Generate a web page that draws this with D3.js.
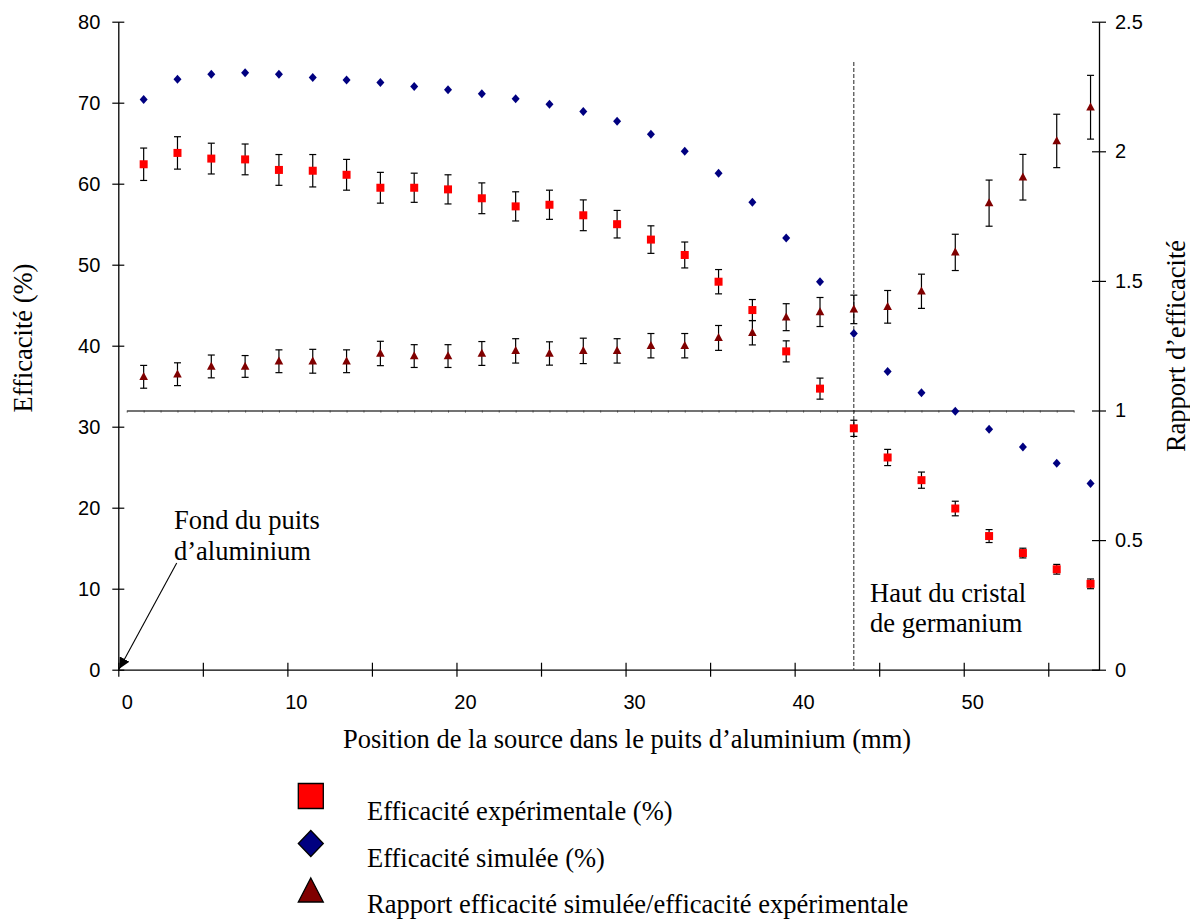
<!DOCTYPE html>
<html>
<head>
<meta charset="utf-8">
<script src="https://cdn.jsdelivr.net/npm/d3@7"></script>
<style>
body { margin: 0; background: #fff; }
</style>
</head>
<body>
<div id="viz"></div>
<script>
// position de la source (mm)
var positions = [1, 3, 5, 7, 9, 11, 13, 15, 17, 19, 21, 23, 25, 27, 29, 31, 33, 35, 37, 39, 41, 43, 45, 47, 49, 51, 53, 55, 57];

// efficacite experimentale (%) et son incertitude
var experimentale = [62.4, 63.8, 63.1, 63.0, 61.7, 61.6, 61.1, 59.5, 59.5, 59.3, 58.2, 57.2, 57.4, 56.1, 55.0, 53.1, 51.2, 47.9, 44.4, 39.3, 34.7, 29.8, 26.2, 23.4, 19.9, 16.5, 14.4, 12.4, 10.6];
var errExp = [2.0, 2.0, 1.9, 1.9, 1.9, 2.0, 1.9, 1.9, 1.8, 1.8, 1.9, 1.8, 1.8, 1.9, 1.7, 1.7, 1.6, 1.5, 1.3, 1.3, 1.3, 1.0, 1.0, 1.0, 0.9, 0.8, 0.6, 0.6, 0.6];

// efficacite simulee (%)
var simulee = [70.4, 72.9, 73.5, 73.7, 73.5, 73.1, 72.8, 72.5, 72.0, 71.6, 71.1, 70.5, 69.8, 68.9, 67.7, 66.1, 64.0, 61.3, 57.7, 53.3, 47.9, 41.5, 36.8, 34.2, 31.9, 29.7, 27.5, 25.5, 23.0];

// rapport simulee / experimentale (axe de droite)
var rapport = [1.13, 1.14, 1.17, 1.17, 1.19, 1.19, 1.19, 1.22, 1.21, 1.21, 1.22, 1.23, 1.22, 1.23, 1.23, 1.25, 1.25, 1.28, 1.30, 1.36, 1.38, 1.39, 1.40, 1.46, 1.61, 1.80, 1.90, 2.04, 2.17];
var errRapport = [0.044, 0.044, 0.044, 0.042, 0.044, 0.046, 0.044, 0.047, 0.044, 0.044, 0.046, 0.047, 0.045, 0.049, 0.047, 0.047, 0.047, 0.048, 0.047, 0.052, 0.056, 0.055, 0.063, 0.066, 0.070, 0.089, 0.088, 0.103, 0.123];

var effTicks = [0, 10, 20, 30, 40, 50, 60, 70, 80];
var rapTicks = [0, 0.5, 1, 1.5, 2, 2.5];
var posLabels = [0, 10, 20, 30, 40, 50];
var posTicks = [-0.5, 4.5, 9.5, 14.5, 19.5, 24.5, 29.5, 34.5, 39.5, 44.5, 49.5, 54.5];
var hautCristal = 43;

var serif = "'Liberation Serif', 'Times New Roman', serif";
var sans = "'Liberation Sans', Arial, sans-serif";

var svg = d3.select("#viz")
  .append("svg")
  .attr("width", 1190)
  .attr("height", 919);

var x = d3.scaleLinear().domain([-0.5, 57.5]).range([118.3, 1099]);
var yL = d3.scaleLinear().domain([0, 80]).range([669.7, 21.7]);
var yR = d3.scaleLinear().domain([0, 2.5]).range([669.7, 21.7]);

var defs = svg.append("defs");
defs.append("marker")
  .attr("id", "fleche")
  .attr("viewBox", "0 0 10 10")
  .attr("refX", 10).attr("refY", 5)
  .attr("markerWidth", 11).attr("markerHeight", 11)
  .attr("markerUnits", "userSpaceOnUse")
  .attr("orient", "auto")
  .append("path")
  .attr("d", "M0,0L10,5L0,10Z")
  .attr("fill", "#000");

function styleAxis(g) {
  g.attr("font-family", sans).attr("font-size", 20);
  g.selectAll("text").attr("fill", "#000");
  g.selectAll("line").attr("stroke", "#000").attr("stroke-width", 1.2);
  g.selectAll("path.domain").attr("stroke", "#000").attr("stroke-width", 1.3);
}

// ligne horizontale rapport = 1 (axe secondaire)
var xSec = d3.scaleLinear().domain([0, 56]).range([x(0), x(56)]);
var gSec = svg.append("g")
  .attr("transform", "translate(0," + yR(1) + ")")
  .call(d3.axisBottom(xSec).tickValues(d3.range(0, 57)).tickSize(2).tickSizeOuter(0).tickFormat(""));
gSec.selectAll("line").attr("stroke", "#444").attr("stroke-width", 1);
gSec.select("path.domain").attr("stroke", "#444").attr("stroke-width", 1.3);

// ligne pointillee : haut du cristal
svg.append("line")
  .attr("x1", x(hautCristal)).attr("x2", x(hautCristal))
  .attr("y1", 62).attr("y2", yL(0))
  .attr("stroke", "#222")
  .attr("stroke-width", 1)
  .attr("stroke-dasharray", "4,2");

// axes
var gLeft = svg.append("g")
  .attr("transform", "translate(" + x(-0.5) + ",0)")
  .call(d3.axisLeft(yL).tickValues(effTicks).tickSize(6).tickSizeOuter(0).tickPadding(12));
styleAxis(gLeft);
gLeft.selectAll(".tick line").attr("x1", 6);

var gRight = svg.append("g")
  .attr("transform", "translate(" + x(57.5) + ",0)")
  .call(d3.axisRight(yR).tickValues(rapTicks).tickSize(7).tickSizeOuter(0).tickPadding(9).tickFormat(String));
styleAxis(gRight);
gRight.selectAll(".tick line").attr("x1", -7);

var gBottom = svg.append("g")
  .attr("transform", "translate(0," + yL(0) + ")")
  .call(d3.axisBottom(x).tickValues(posTicks).tickSize(7).tickSizeOuter(0).tickFormat(""));
styleAxis(gBottom);
gBottom.selectAll(".tick line").attr("y1", -7);

var gLabels = svg.append("g")
  .attr("transform", "translate(0," + yL(0) + ")")
  .call(d3.axisBottom(x).tickValues(posLabels).tickSize(0).tickPadding(25));
styleAxis(gLabels);
gLabels.select("path.domain").remove();

// barres d'erreur
function errorBars(vals, errs, y, cls) {
  var g = svg.append("g").attr("class", cls);
  positions.forEach(function(p, i) {
    var cx = x(p), lo = y(vals[i] - errs[i]), hi = y(vals[i] + errs[i]);
    g.append("line").attr("x1", cx).attr("x2", cx).attr("y1", lo).attr("y2", hi);
    g.append("line").attr("x1", cx - 3.5).attr("x2", cx + 3.5).attr("y1", lo).attr("y2", lo);
    g.append("line").attr("x1", cx - 3.5).attr("x2", cx + 3.5).attr("y1", hi).attr("y2", hi);
  });
  g.selectAll("line").attr("stroke", "#000").attr("stroke-width", 1.2);
}

// efficacite experimentale
errorBars(experimentale, errExp, yL, "err-exp");
svg.append("g").selectAll("rect").data(experimentale).enter()
  .append("rect")
  .attr("x", function(d, i) { return x(positions[i]) - 4; })
  .attr("y", function(d) { return yL(d) - 4; })
  .attr("width", 8).attr("height", 8)
  .attr("fill", "#ff0000");

// efficacite simulee
svg.append("g").selectAll("path").data(simulee).enter()
  .append("path")
  .attr("d", "M0,-4.5L4,0L0,4.5L-4,0Z")
  .attr("transform", function(d, i) { return "translate(" + x(positions[i]) + "," + yL(d) + ")"; })
  .attr("fill", "#000080");

// rapport
errorBars(rapport, errRapport, yR, "err-rap");
svg.append("g").selectAll("path").data(rapport).enter()
  .append("path")
  .attr("d", "M0,-4.8L4.3,3.2L-4.3,3.2Z")
  .attr("transform", function(d, i) { return "translate(" + x(positions[i]) + "," + yR(d) + ")"; })
  .attr("fill", "#800000");

// titres des axes
svg.append("text")
  .attr("transform", "translate(32,338) rotate(-90)")
  .attr("text-anchor", "middle")
  .attr("font-family", serif).attr("font-size", 26.5)
  .text("Efficacité (%)");

svg.append("text")
  .attr("transform", "translate(1185,346) rotate(-90)")
  .attr("text-anchor", "middle")
  .attr("font-family", serif).attr("font-size", 26.5)
  .text("Rapport d’efficacité");

svg.append("text")
  .attr("x", 627).attr("y", 748)
  .attr("text-anchor", "middle")
  .attr("font-family", serif).attr("font-size", 26.5)
  .text("Position de la source dans le puits d’aluminium (mm)");

// annotations
var annot = svg.append("g").attr("font-family", serif).attr("font-size", 26.5);
annot.append("text").attr("x", 174).attr("y", 529).text("Fond du puits");
annot.append("text").attr("x", 174).attr("y", 560).text("d’aluminium");
annot.append("text").attr("x", 870).attr("y", 601.5).text("Haut du cristal");
annot.append("text").attr("x", 870).attr("y", 631.5).text("de germanium");

svg.append("line")
  .attr("x1", 176.7).attr("y1", 563)
  .attr("x2", x(-0.5) + 1).attr("y2", yL(0) - 1)
  .attr("stroke", "#000").attr("stroke-width", 1.1)
  .attr("marker-end", "url(#fleche)");

// legende
var legende = [
  { label: "Efficacité expérimentale (%)", fill: "#ff0000", shape: "M-12.5,-12.5L12.5,-12.5L12.5,12.5L-12.5,12.5Z", cy: 796, ty: 820 },
  { label: "Efficacité simulée (%)", fill: "#000080", shape: "M0,-13L12.5,0L0,13L-12.5,0Z", cy: 843.5, ty: 866.7 },
  { label: "Rapport efficacité simulée/efficacité expérimentale", fill: "#800000", shape: "M0,-13L12.5,11L-12.5,11Z", cy: 891, ty: 913.3 }
];
var lg = svg.append("g").selectAll("g").data(legende).enter().append("g");
lg.append("path")
  .attr("d", function(d) { return d.shape; })
  .attr("transform", function(d) { return "translate(310.8," + d.cy + ")"; })
  .attr("fill", function(d) { return d.fill; })
  .attr("stroke", "#000").attr("stroke-width", 1.3);
lg.append("text")
  .attr("x", 367).attr("y", function(d) { return d.ty; })
  .attr("font-family", serif).attr("font-size", 26.5)
  .text(function(d) { return d.label; });
</script>
</body>
</html>
